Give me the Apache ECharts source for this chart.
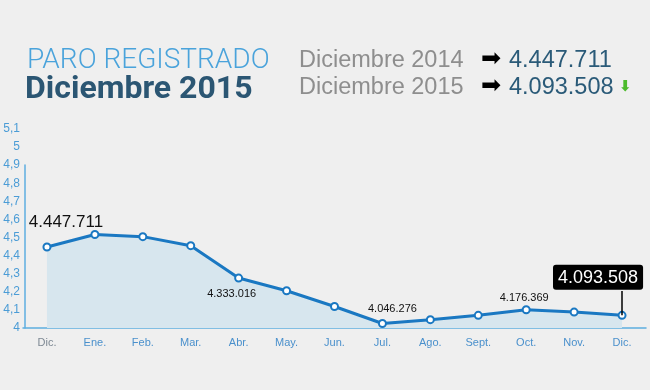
<!DOCTYPE html>
<html>
<head>
<meta charset="utf-8">
<script src="https://cdn.jsdelivr.net/npm/echarts@6/dist/echarts.min.js"></script>
<style>
html,body{margin:0;padding:0;background:#efefef;}
#chart{width:650px;height:390px;}
</style>
</head>
<body>
<div id="chart"></div>
<script>
const categories = ['Dic.','Ene.','Feb.','Mar.','Abr.','May.','Jun.','Jul.','Ago.','Sept.','Oct.','Nov.','Dic.'];
const paro = [4.448, 4.517, 4.505, 4.455, 4.276, 4.206, 4.119, 4.025, 4.046, 4.070, 4.101, 4.088, 4.070];
const pointLabels = ['4.447.711','','','','4.333.016','','','4.046.276','','','4.176.369','','4.093.508'];
const yTickLabels = ['4','4,1','4,2','4,3','4,4','4,5','4,6','4,7','4,8','4,9','5','5,1'];
const titleLine1 = 'PARO REGISTRADO';
const titleLine2 = 'Diciembre 2015';
const summaryNames = ['Diciembre 2014','Diciembre 2015'];
const summaryValues = ['4.447.711','4.093.508'];

const labelStyles = {
  0:  {position:'top', distance:12, offset:[19,0], fontSize:17, color:'#111'},
  4:  {position:'bottom', distance:6, offset:[-7,0], fontSize:11, color:'#111'},
  7:  {position:'top', distance:5, offset:[10,0], fontSize:11, color:'#111'},
  10: {position:'top', distance:2, offset:[-2,0], fontSize:11, color:'#111'},
  12: {position:'top', distance:21, offset:[-24,0], fontSize:18, color:'#fff',
       backgroundColor:'#000', borderRadius:3, padding:[4,5,3,5]}
};

const seriesData = paro.map((v,i)=>{
  const item = {value:v};
  if (pointLabels[i]) {
    item.label = Object.assign({show:true, formatter:pointLabels[i], fontFamily:'Liberation Sans'}, labelStyles[i]);
  }
  return item;
});

const narrow = '"Liberation Sans Narrow", "Liberation Sans"';
const chart = echarts.init(document.getElementById('chart'));
chart.setOption({
  backgroundColor:'#efefef',
  animation:false,
  grid:[
    {left:23, right:4, top:129, bottom:62},
    {left:25, right:4, top:165, bottom:62}
  ],
  xAxis:[
    {type:'category', gridIndex:0, data:categories, boundaryGap:true,
     axisTick:{show:false},
     axisLine:{lineStyle:{color:'#5eaee0', width:1.5}},
     axisLabel:{interval:0, margin:9, fontSize:11, fontFamily:narrow, color:'#4a90cc',
       formatter:(v,i)=> i===0 ? '{g|'+v+'}' : v,
       rich:{g:{color:'#7d8893', fontSize:11, fontFamily:narrow}}},
     splitLine:{show:false}},
    {type:'category', gridIndex:1, data:categories, show:false}
  ],
  yAxis:[
    {type:'value', gridIndex:0, min:4, max:5.1, interval:0.1,
     axisLine:{show:false}, axisTick:{show:false}, splitLine:{show:false},
     axisLabel:{margin:3, fontSize:12, fontFamily:narrow, color:'#4b9cd6',
       formatter:(v)=> yTickLabels[Math.round((v-4)*10)] || ''}},
    {type:'value', gridIndex:1, min:4, max:4.9,
     axisLine:{show:true, lineStyle:{color:'#5eaee0', width:1.5}},
     axisTick:{show:false}, axisLabel:{show:false}, splitLine:{show:false}}
  ],
  series:[{
    type:'line', xAxisIndex:0, yAxisIndex:0,
    data:seriesData,
    symbol:'circle', symbolSize:7, showAllSymbol:true,
    itemStyle:{color:'#ffffff', borderColor:'#1a78c2', borderWidth:2},
    lineStyle:{color:'#1a78c2', width:3},
    areaStyle:{color:'#d7e6ee', opacity:1},
    z:3,
    markLine:{
      silent:true, symbol:['none','none'], label:{show:false},
      lineStyle:{color:'#000', width:1.5, type:'solid'},
      data:[[{coord:[12, paro[12]]},{coord:[12, paro[12]+0.135]}]]
    }
  }],
  graphic:[
    {type:'text', left:27, top:47, style:{text:titleLine1, font:'300 28px Roboto', fill:'#4aa3db'}},
    {type:'text', left:25, top:74, style:{text:titleLine2, font:'bold 32px Roboto', fill:'#2b5673'}},
    {type:'text', left:299, top:49, style:{text:summaryNames[0], font:'23.5px "Liberation Sans"', fill:'#8e8e8e'}},
    {type:'text', left:299, top:76, style:{text:summaryNames[1], font:'23.5px "Liberation Sans"', fill:'#8e8e8e'}},
    {type:'text', left:481, top:48, style:{text:'➡', font:'24px "DejaVu Sans"', fill:'#000'}},
    {type:'text', left:481, top:75, style:{text:'➡', font:'24px "DejaVu Sans"', fill:'#000'}},
    {type:'text', left:509, top:49, style:{text:summaryValues[0], font:'23.5px "Liberation Sans"', fill:'#2a5a78'}},
    {type:'text', left:509, top:76, style:{text:summaryValues[1], font:'23.5px "Liberation Sans"', fill:'#2a5a78'}},
    {type:'text', left:619, top:80, style:{text:'⬇', font:'bold 15px "DejaVu Sans"', fill:'#4cbb2c'}}
  ]
});
</script>
</body>
</html>
